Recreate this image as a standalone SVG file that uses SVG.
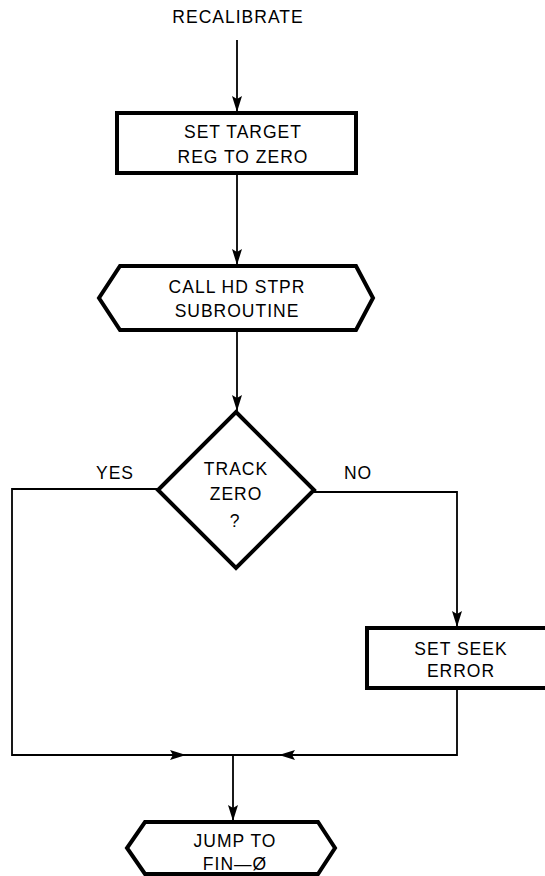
<svg xmlns="http://www.w3.org/2000/svg" width="545" height="876" viewBox="0 0 545 876">
<style>
.n{fill:none;stroke:#000;stroke-width:4;stroke-linejoin:miter}
.c{fill:none;stroke:#000;stroke-width:1.8}
text{font-family:"Liberation Sans",Arial,sans-serif;font-size:17.5px;letter-spacing:1px;fill:#000;text-anchor:middle}
</style>
<defs>
<marker id="ah" markerWidth="18" markerHeight="12" refX="16" refY="5" orient="auto" markerUnits="userSpaceOnUse">
<path d="M0,0 L16,5 L0,10 L3,5 Z" fill="#000"/>
</marker>
</defs>
<g id="connectors">
<line class="c" x1="237" y1="40" x2="237" y2="112" marker-end="url(#ah)"/>
<line class="c" x1="237" y1="175" x2="237" y2="265" marker-end="url(#ah)"/>
<line class="c" x1="237" y1="330" x2="237" y2="411" marker-end="url(#ah)"/>
<polyline class="c" points="158,489 12,489 12,755 186,755" marker-end="url(#ah)"/>
<polyline class="c" points="314,492 457,492 457,627" marker-end="url(#ah)"/>
<polyline class="c" points="457,688 457,755 279,755" marker-end="url(#ah)"/>
<line class="c" x1="186" y1="755" x2="279" y2="755"/>
<line class="c" x1="233" y1="755" x2="233" y2="821" marker-end="url(#ah)"/>
</g>
<g id="start"><text x="238" y="23">RECALIBRATE</text></g>
<g id="set-target">
<rect class="n" x="117" y="113" width="239" height="60"/>
<text x="243" y="138">SET TARGET</text>
<text x="243" y="163">REG TO ZERO</text>
</g>
<g id="call-hd-stpr">
<polygon class="n" points="120,266 356,266 373,298 356,330 120,330 99,298"/>
<text x="237" y="293">CALL HD STPR</text>
<text x="237" y="317">SUBROUTINE</text>
</g>
<g id="track-zero">
<polygon class="n" points="236,412 314,490 236,568 158,490"/>
<text x="236" y="475">TRACK</text>
<text x="236" y="500">ZERO</text>
<text x="235" y="527">?</text>
</g>
<text x="115" y="479">YES</text>
<text x="358" y="479">NO</text>
<g id="set-seek-error">
<rect class="n" x="367" y="628" width="190" height="60"/>
<text x="461" y="655">SET SEEK</text>
<text x="461" y="677">ERROR</text>
</g>
<g id="jump-to-fin">
<polygon class="n" points="145,822 318,822 335,848 318,874 145,874 127,848"/>
<text x="235" y="847">JUMP TO</text>
<text x="235" y="870">FIN—Ø</text>
</g>
</svg>
